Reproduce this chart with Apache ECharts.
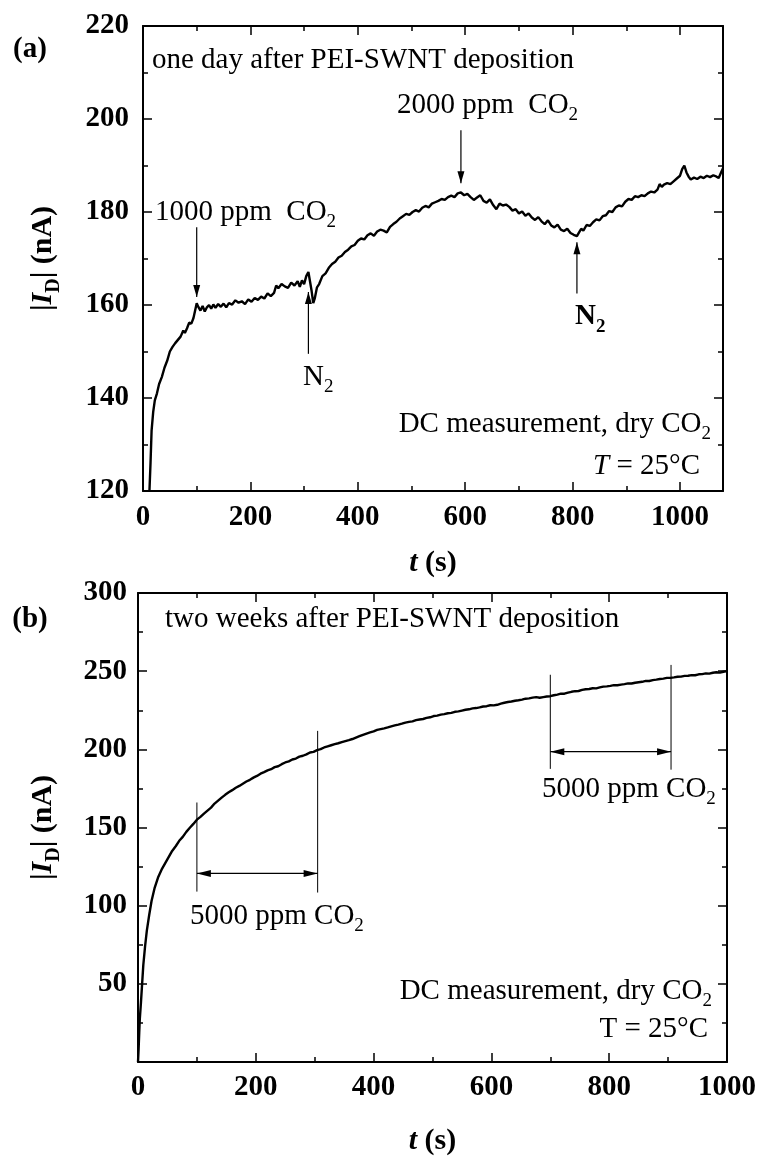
<!DOCTYPE html>
<html>
<head>
<meta charset="utf-8">
<script src="https://cdn.jsdelivr.net/npm/echarts@6/dist/echarts.min.js"></script>
<style>
html, body { margin: 0; padding: 0; background: #fff; }
#chart { width: 761px; height: 1158px; }
</style>
</head>
<body>
<div id="chart"></div>
<script>
// panel (a): one day after deposition
var timeA = [12, 14, 16, 19, 22, 26, 30, 35, 40, 45, 50, 55, 60, 65, 70, 75, 78, 82, 86, 90,
    94, 97, 100, 103, 107, 111, 115, 119, 123, 127, 131, 135, 140, 145, 150, 155, 160, 166, 172, 178,
    184, 190, 196, 202, 208, 214, 220, 226, 232, 238, 244, 248, 252, 258, 264, 270, 276, 282, 288, 292,
    296, 300, 304, 308, 311, 314, 317, 320, 324, 328, 334, 340, 346, 352, 358, 364, 370, 376, 382, 388,
    394, 400, 406, 412, 418, 424, 430, 436, 442, 448, 454, 460, 466, 472, 478, 484, 490, 496, 502, 508,
    514, 520, 526, 532, 538, 544, 550, 556, 562, 568, 574, 580, 586, 592, 598, 604, 610, 616, 622, 628,
    634, 640, 646, 652, 658, 664, 670, 676, 682, 688, 694, 700, 706, 712, 718, 724, 730, 736, 742, 748,
    754, 760, 766, 772, 778, 784, 790, 796, 802, 808, 812, 816, 820, 826, 832, 838, 844, 850, 856, 862,
    868, 874, 880, 886, 892, 898, 904, 910, 916, 922, 928, 934, 940, 946, 952, 958, 962, 966, 970, 976,
    982, 988, 994, 1000, 1004, 1008, 1012, 1016, 1020, 1026, 1032, 1038, 1044, 1050, 1056, 1062, 1068, 1072, 1076, 1080];
var currentA = [120, 126, 133, 137, 139.5, 141, 143, 144.5, 146.5, 148, 150, 151, 151.8, 152.5, 153.2, 154.5, 154, 155, 156.2, 156,
    157.2, 157.5, 160.4, 159.6, 158.8, 159.8, 158.6, 159.5, 160, 159.2, 160.1, 159.4, 160.2, 159.6, 160.3, 159.5, 160.4, 160.1, 161, 160.5,
    160.8, 160.2, 161.2, 160.7, 161.5, 161.1, 161.8, 161.4, 162.5, 161.9, 162.6, 164.2, 163.6, 164.5, 164, 163.7, 164.8, 164.2, 165.1, 163.9,
    165.3, 164.5, 166.2, 167.1, 166.8, 163, 160.4, 161.5, 163.8, 164.5, 166.2, 166.8, 168, 168.8, 169.3, 170.2, 170.6, 171.4, 171.9, 172.6,
    172.9, 173.8, 174.3, 174.1, 175, 175.4, 174.9, 175.8, 176.2, 176, 175.6, 176.8, 177.4, 177.9, 178.6, 179.1, 179.6, 179.4, 180, 180.4,
    180.1, 180.9, 181.3, 181, 181.8, 182.1, 182.4, 182.8, 182.6, 183.2, 183.5, 183.2, 184, 184.2, 183.6, 183.9, 183.2, 182.6, 183.1, 183.6,
    182.4, 182, 182.7, 181.5, 180.6, 181.8, 181.4, 181.6, 181.1, 180.3, 180.6, 179.7, 180.1, 179.2, 179.7, 178.8, 178.3, 178.9, 178, 177.4,
    178.2, 177.1, 176.7, 177.3, 176.2, 175.9, 176.4, 175.5, 175.1, 174.8, 175.6, 176.4, 176, 177.2, 177, 177.8, 178.4, 178.2, 179.1, 179.3,
    180.2, 180, 181, 181.4, 181.2, 182.2, 182.8, 182.6, 183.4, 183.2, 183.6, 183.4, 184, 184.4, 184.2, 184.8, 186, 185.4, 185.9, 186.2,
    186, 186.6, 187.2, 187.8, 189.2, 190, 188.5, 187.6, 187, 187.4, 187.1, 187.6, 187.3, 187.8, 187.5, 187.9, 187.6, 187.3, 188.4, 189.4];

// panel (b): two weeks after deposition
var timeB = [0, 1, 2, 3, 5, 7, 9, 12, 15, 19, 23, 28, 34, 40, 46, 52, 58, 64, 70, 76,
    82, 88, 94, 100, 106, 112, 118, 124, 130, 136, 142, 148, 154, 160, 166, 172, 178, 184, 190, 196,
    202, 208, 214, 220, 226, 232, 238, 244, 250, 256, 262, 268, 274, 280, 286, 292, 298, 304, 310, 316,
    322, 328, 334, 340, 346, 352, 358, 364, 370, 376, 382, 388, 394, 400, 406, 412, 418, 424, 430, 436,
    442, 448, 454, 460, 466, 472, 478, 484, 490, 496, 502, 508, 514, 520, 526, 532, 538, 544, 550, 556,
    562, 568, 574, 580, 586, 592, 598, 604, 610, 616, 622, 628, 634, 640, 646, 652, 658, 664, 670, 676,
    682, 688, 694, 700, 706, 712, 718, 724, 730, 736, 742, 748, 754, 760, 766, 772, 778, 784, 790, 796,
    802, 808, 814, 820, 826, 832, 838, 844, 850, 856, 862, 868, 874, 880, 886, 892, 898, 904, 910, 916,
    922, 928, 934, 940, 946, 952, 958, 964, 970, 976, 982, 988, 994, 1000];
var currentB = [0, 8, 18, 27, 38, 50, 62, 74, 84, 94, 103, 111, 118, 123, 127, 131, 135, 138, 141.5, 144,
    147.2, 149.8, 152.3, 155, 156.8, 158.9, 160.8, 162.7, 165.3, 167.2, 169.1, 170.9, 172.5, 173.9, 175.4, 176.6, 178, 179.4, 180.5, 181.9,
    183, 184.4, 185.4, 186.5, 187.3, 188.6, 189.2, 190.5, 191.6, 192.3, 193.5, 194.1, 195.3, 195.9, 196.8, 198, 198.4, 199.5, 200.1, 201.2,
    201.9, 202.6, 203.3, 203.9, 204.6, 205.3, 205.9, 206.6, 207.5, 208.4, 209.3, 210.1, 210.8, 211.5, 212.4, 212.9, 213.4, 214, 214.7, 215.3,
    215.8, 216.4, 217.1, 217.6, 217.9, 218.7, 219.1, 219.4, 220.1, 220.5, 221.3, 221.6, 222.2, 222.5, 223.1, 223.3, 224, 224.3, 224.8, 225.3,
    225.6, 226.2, 226.4, 226.8, 227.4, 227.6, 228.2, 228.1, 228.5, 229.2, 229.8, 230.3, 230.6, 231.1, 231.4, 231.8, 232.4, 232.6, 233.1, 233.4,
    233, 233.4, 233.8, 234, 234.6, 235, 235.6, 235.6, 236.3, 236.8, 237.2, 237.3, 238, 238.4, 238.6, 239.1, 239, 239.6, 240.1, 240.3,
    240.6, 241.1, 241, 241.4, 241.7, 242.2, 242.1, 242.6, 242.9, 243.2, 243.8, 243.7, 244.3, 244.6, 245, 245.2, 245.7, 245.7, 246, 246.4,
    246.5, 247, 247.1, 247.5, 247.4, 248, 248.1, 248.6, 248.4, 249, 249.3, 249.1, 249.6, 250];

// annotation arrows: [t, from, t, to]
var arrowsA = [[100, 176.7, 100, 161.7], [308, 149.5, 308, 162.8], [592, 197.6, 592, 186.2], [808, 162.5, 808, 173.5]];
// CO2 exposure windows in (b)
var windowsB = [
    {from: 100, to: 305, level: 120.6, left: [109, 166], right: [108.4, 211.8]},
    {from: 700, to: 905, level: 198.5, left: [187.5, 247.7], right: [187, 254]}
];

var SERIF = '"Liberation Serif", "Times New Roman", serif';

function zip(xs, ys) {
    var out = [];
    for (var i = 0; i < xs.length; i++) out.push([xs[i], ys[i]]);
    return out;
}

function axis(gridIndex, pos, min, max, interval, showLabel, margin) {
    return {
        type: 'value', gridIndex: gridIndex, position: pos,
        min: min, max: max, interval: interval,
        axisLine: {show: true, onZero: false, lineStyle: {color: '#000', width: 2}},
        axisTick: {show: true, inside: true, length: 9, lineStyle: {color: '#000', width: 1.5}},
        minorTick: {show: true, splitNumber: 2, length: 5, lineStyle: {color: '#000', width: 1.5}},
        splitLine: {show: false},
        axisLabel: {
            show: showLabel, margin: margin, color: '#000',
            fontFamily: SERIF, fontWeight: 'bold', fontSize: 29,
            formatter: function (v) { return String(v); }
        }
    };
}

// subscripts: small box pinned to the bottom of the line
var nameStyle = {
    color: '#000', fontFamily: SERIF, fontWeight: 'bold', fontSize: 30, lineHeight: 32,
    rich: {
        i: {fontFamily: SERIF, fontWeight: 'bold', fontStyle: 'italic', fontSize: 30, lineHeight: 32, color: '#000'},
        sub: {fontFamily: SERIF, fontWeight: 'bold', fontSize: 20, height: 10, lineHeight: 10, verticalAlign: 'bottom', color: '#000'}
    }
};

var xa = axis(0, 'bottom', 0, 1080, 200, true, 12);
xa.axisLabel.showMaxLabel = false;
xa.name = '{i|t} (s)';
xa.nameLocation = 'middle';
xa.nameGap = 56;
xa.nameTextStyle = nameStyle;

var ya = axis(0, 'left', 120, 220, 20, true, 14);
ya.name = '|{i|I}{sub|D}| (nA)';
ya.nameLocation = 'middle';
ya.nameRotate = 90;
ya.nameGap = 84;
ya.nameTextStyle = nameStyle;

var xb = axis(1, 'bottom', 0, 1000, 200, true, 11);
xb.name = '{i|t} (s)';
xb.nameLocation = 'middle';
xb.nameGap = 63;
xb.nameTextStyle = nameStyle;

var yb = axis(1, 'left', 0, 300, 50, true, 11);
yb.axisLabel.showMinLabel = false;
yb.name = '|{i|I}{sub|D}| (nA)';
yb.nameLocation = 'middle';
yb.nameRotate = 90;
yb.nameGap = 79;
yb.nameTextStyle = nameStyle;

var option = {
    backgroundColor: '#fff',
    animation: false,
    grid: [
        {left: 143, top: 26, width: 580, height: 465},
        {left: 138, top: 593, width: 589, height: 471}
    ],
    xAxis: [xa, axis(0, 'top', 0, 1080, 200, false, 0), xb, axis(1, 'top', 0, 1000, 200, false, 0)],
    yAxis: [ya, axis(0, 'right', 120, 220, 20, false, 0), yb, axis(1, 'right', 0, 300, 50, false, 0)],
    series: [
        {
            type: 'line', xAxisIndex: 0, yAxisIndex: 0, data: zip(timeA, currentA),
            symbol: 'none', lineStyle: {color: '#000', width: 2.4}, clip: true
        },
        {
            type: 'line', xAxisIndex: 2, yAxisIndex: 2, data: zip(timeB, currentB),
            symbol: 'none', lineStyle: {color: '#000', width: 2.4}, clip: true
        }
    ]
};

var chart = echarts.init(document.getElementById('chart'));
chart.setOption(option);

var subRich = {
    s: {fontFamily: SERIF, fontSize: 19, height: 10, lineHeight: 10, verticalAlign: 'bottom', fill: '#000'},
    sb: {fontFamily: SERIF, fontSize: 19, fontWeight: 'bold', height: 10, lineHeight: 10, verticalAlign: 'bottom', fill: '#000'},
    i: {fontFamily: SERIF, fontSize: 29, fontStyle: 'italic', lineHeight: 30, fill: '#000'}
};

function label(x, y, text, align, bold) {
    return {
        type: 'text', silent: true, z: 100,
        style: {
            x: x, y: y, text: text, fill: '#000',
            fontFamily: SERIF, fontSize: 29, fontWeight: bold ? 'bold' : 'normal',
            lineHeight: 30, align: align || 'left', verticalAlign: 'middle', rich: subRich
        }
    };
}

var graphics = [
    label(30, 50, '(a)', 'center', true),
    label(152, 60, 'one day after PEI-SWNT deposition'),
    label(155, 212, '1000 ppm  CO{s|2}'),
    label(397, 105, '2000 ppm  CO{s|2}'),
    label(303, 377, 'N{s|2}'),
    label(575, 317, 'N{sb|2}', 'left', true),
    label(711, 424, 'DC measurement, dry CO{s|2}', 'right'),
    label(700, 466, '{i|T} = 25°C', 'right'),

    label(30, 620, '(b)', 'center', true),
    label(165, 619, 'two weeks after PEI-SWNT deposition'),
    label(190, 916, '5000 ppm CO{s|2}'),
    label(542, 789, '5000 ppm CO{s|2}'),
    label(712, 991, 'DC measurement, dry CO{s|2}', 'right'),
    label(708, 1029, 'T = 25°C', 'right')
];

function seg(p0, p1, w) {
    return {
        type: 'line', silent: true, z: 100,
        shape: {x1: p0[0], y1: p0[1], x2: p1[0], y2: p1[1]},
        style: {stroke: '#000', lineWidth: w || 1.2}
    };
}

function head(p0, p1, len, half) {
    var dx = p1[0] - p0[0], dy = p1[1] - p0[1];
    var d = Math.sqrt(dx * dx + dy * dy);
    var ux = dx / d, uy = dy / d;
    var bx = p1[0] - ux * len, by = p1[1] - uy * len;
    return {
        type: 'polygon', silent: true, z: 100,
        shape: {points: [[p1[0], p1[1]], [bx - uy * half, by + ux * half], [bx + uy * half, by - ux * half]]},
        style: {fill: '#000'}
    };
}

var finderA = {xAxisIndex: 0, yAxisIndex: 0};
var finderB = {xAxisIndex: 2, yAxisIndex: 2};

arrowsA.forEach(function (a) {
    var p0 = chart.convertToPixel(finderA, [a[0], a[1]]);
    var p1 = chart.convertToPixel(finderA, [a[2], a[3]]);
    graphics.push(seg(p0, p1, 1.2));
    graphics.push(head(p0, p1, 12, 3.5));
});

windowsB.forEach(function (w) {
    graphics.push(seg(chart.convertToPixel(finderB, [w.from, w.left[0]]), chart.convertToPixel(finderB, [w.from, w.left[1]]), 1));
    graphics.push(seg(chart.convertToPixel(finderB, [w.to, w.right[0]]), chart.convertToPixel(finderB, [w.to, w.right[1]]), 1));
    var a = chart.convertToPixel(finderB, [w.from, w.level]);
    var b = chart.convertToPixel(finderB, [w.to, w.level]);
    graphics.push(seg(a, b, 1.2));
    graphics.push(head(b, a, 14, 3.5));
    graphics.push(head(a, b, 14, 3.5));
});

chart.setOption({graphic: graphics});
</script>
</body>
</html>
